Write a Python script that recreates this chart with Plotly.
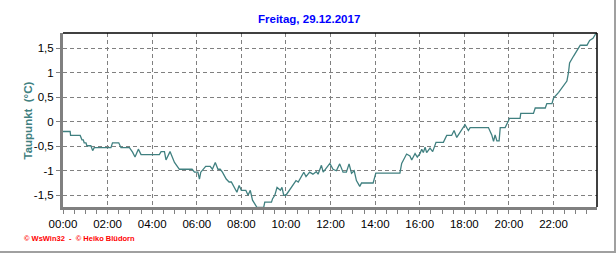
import plotly.graph_objects as go

# --- data (hours of day, dew point in °C) ---
hours = [0.0, 0.32, 0.34, 0.77, 0.85, 0.91, 0.95, 1.03, 1.07, 1.25, 1.33, 1.40,
         2.15, 2.22, 2.50, 2.60, 2.98, 3.12, 3.23, 3.38, 3.50, 4.32, 4.40, 4.55,
         4.62, 4.80, 5.00, 5.22, 5.79, 5.90, 6.05, 6.12, 6.18, 6.30, 6.40, 6.60,
         6.70, 6.83, 6.95, 7.05, 7.15, 7.32, 7.45, 7.55, 7.70, 7.80, 7.90, 8.00,
         8.20, 8.30, 8.40, 8.50, 8.70, 9.00, 9.05, 9.35, 9.40, 9.50, 9.60, 9.75,
         9.82, 9.90, 10.00, 10.15, 10.30, 10.45, 10.55, 10.70, 10.80, 10.90, 11.06, 11.21,
         11.36, 11.44, 11.59, 11.67, 11.82, 11.97, 12.11, 12.26, 12.41, 12.56, 12.71, 12.83,
         12.94, 13.06, 13.16, 13.31, 13.39, 13.91, 14.03, 15.11, 15.19, 15.41, 15.56, 15.64,
         15.79, 15.89, 16.01, 16.09, 16.16, 16.24, 16.31, 16.46, 16.58, 16.73, 17.06, 17.21,
         17.43, 17.54, 17.66, 17.81, 18.03, 18.18, 18.26, 19.08, 19.23, 19.31, 19.38, 19.46,
         19.56, 19.61, 19.83, 19.98, 20.02, 20.50, 20.53, 21.10, 21.18, 21.63, 21.70, 21.93,
         22.00, 22.23, 22.45, 22.60, 22.67, 22.72, 22.90, 23.12, 23.20, 23.50, 23.62, 23.77,
         23.90]
dewpoint = [-0.20, -0.20, -0.28, -0.28, -0.37, -0.37, -0.43, -0.43, -0.49, -0.49, -0.59, -0.53,
            -0.53, -0.43, -0.43, -0.53, -0.53, -0.62, -0.72, -0.56, -0.67, -0.67, -0.61, -0.61,
            -0.78, -0.61, -0.83, -0.97, -0.97, -1.03, -1.03, -1.17, -1.03, -0.97, -0.91, -0.91,
            -0.97, -0.83, -0.97, -0.97, -1.03, -1.17, -1.23, -1.23, -1.37, -1.44, -1.30, -1.40,
            -1.40, -1.50, -1.40, -1.60, -1.75, -1.75, -1.64, -1.64, -1.57, -1.50, -1.34, -1.40,
            -1.34, -1.50, -1.50, -1.40, -1.30, -1.20, -1.23, -1.12, -1.03, -1.12, -1.03, -1.07,
            -1.02, -1.07, -0.89, -1.03, -0.93, -0.85, -0.97, -1.00, -0.86, -1.03, -1.03, -0.86,
            -1.05, -1.00, -1.20, -1.32, -1.25, -1.25, -1.05, -1.05, -0.85, -0.66, -0.70, -0.78,
            -0.65, -0.72, -0.65, -0.56, -0.63, -0.52, -0.63, -0.54, -0.61, -0.42, -0.42, -0.28,
            -0.28, -0.18, -0.32, -0.22, -0.06, -0.18, -0.12, -0.12, -0.27, -0.40, -0.27, -0.39,
            -0.39, -0.12, -0.12, 0.02, 0.07, 0.07, 0.17, 0.17, 0.28, 0.28, 0.37, 0.37,
            0.48, 0.60, 0.73, 0.83, 1.00, 1.20, 1.34, 1.51, 1.56, 1.56, 1.66, 1.70,
            1.80]

x_tickvals = [0, 2, 4, 6, 8, 10, 12, 14, 16, 18, 20, 22]
x_ticktext = ["00:00", "02:00", "04:00", "06:00", "08:00", "10:00",
              "12:00", "14:00", "16:00", "18:00", "20:00", "22:00"]
y_tickvals = [1.5, 1, 0.5, 0, -0.5, -1, -1.5]
y_ticktext = ["1,5", "1", "0,5", "0", "-0,5", "-1", "-1,5"]

title_text = "Freitag, 29.12.2017"
ytitle_text = "Taupunkt  (°C)"
footer_text = "© WsWin32  -  © Heiko Blüdorn"

TEAL = "#408080"
FONT = "Liberation Sans, Arial, sans-serif"

fig = go.Figure()
fig.add_trace(go.Scatter(x=hours, y=dewpoint, mode="lines",
                         line=dict(color=TEAL, width=1.3), hoverinfo="skip",
                         showlegend=False))

fig.update_layout(
    width=616, height=253,
    margin=dict(l=63, r=19, t=33, b=46),
    paper_bgcolor="white", plot_bgcolor="white",
    font=dict(family=FONT, size=11, color="black"),
    xaxis=dict(range=[0, 23.95], tickvals=x_tickvals, ticktext=x_ticktext,
               showgrid=True, gridcolor="#808080", griddash="4px,3px", gridwidth=1,
               showline=True, linecolor="#808080", linewidth=3,
               ticks="outside", ticklen=4, tickcolor="#808080", tickwidth=1,
               minor=dict(dtick=0.5, tick0=0, ticks="outside", ticklen=4,
                          tickcolor="#808080", showgrid=False),
               zeroline=False, tickfont=dict(size=11.5), fixedrange=True),
    yaxis=dict(range=[-1.74, 1.81], tickvals=y_tickvals, ticktext=y_ticktext,
               showgrid=True, gridcolor="#808080", griddash="4px,3px", gridwidth=1,
               showline=True, linecolor="#808080", linewidth=3,
               ticks="outside", ticklen=4, tickcolor="#808080", tickwidth=1,
               zeroline=False, tickfont=dict(size=11.5), fixedrange=True),
    shapes=[
        # top and right border of plot area
        dict(type="line", xref="paper", yref="paper", x0=0, x1=1, y0=1, y1=1,
             line=dict(color="black", width=1.5)),
        dict(type="line", xref="paper", yref="paper", x0=1, x1=1, y0=0, y1=1,
             line=dict(color="black", width=1.5)),
        # outer frame (right and bottom)
        dict(type="line", xref="paper", yref="paper", x0=1.0337, x1=1.0337,
             y0=-0.265, y1=1.2, line=dict(color="#a0a0a0", width=2)),
        dict(type="line", xref="paper", yref="paper", x0=-0.2, x1=1.0337,
             y0=-0.2586, y1=-0.2586, line=dict(color="#a0a0a0", width=2)),
    ],
    annotations=[
        dict(text="<b>" + title_text + "</b>", xref="paper", yref="paper",
             x=(309 - 63) / 534, y=1 + (33 - 18.5) / 174, showarrow=False,
             xanchor="center", yanchor="middle",
             font=dict(family=FONT, size=11.5, color="#0000ff")),
        dict(text="<b>" + ytitle_text + "</b>", xref="paper", yref="paper",
             x=(27.5 - 63) / 534, y=(207 - 121) / 174, showarrow=False,
             textangle=-90, xanchor="center", yanchor="middle",
             font=dict(family=FONT, size=11.5, color=TEAL)),
        dict(text="<b>" + footer_text + "</b>", xref="paper", yref="paper",
             x=(22 - 63) / 534, y=(207 - 238) / 174, showarrow=False,
             xanchor="left", yanchor="middle",
             font=dict(family=FONT, size=7.5, color="#ff0000")),
    ],
)

fig.write_html("out.html")
